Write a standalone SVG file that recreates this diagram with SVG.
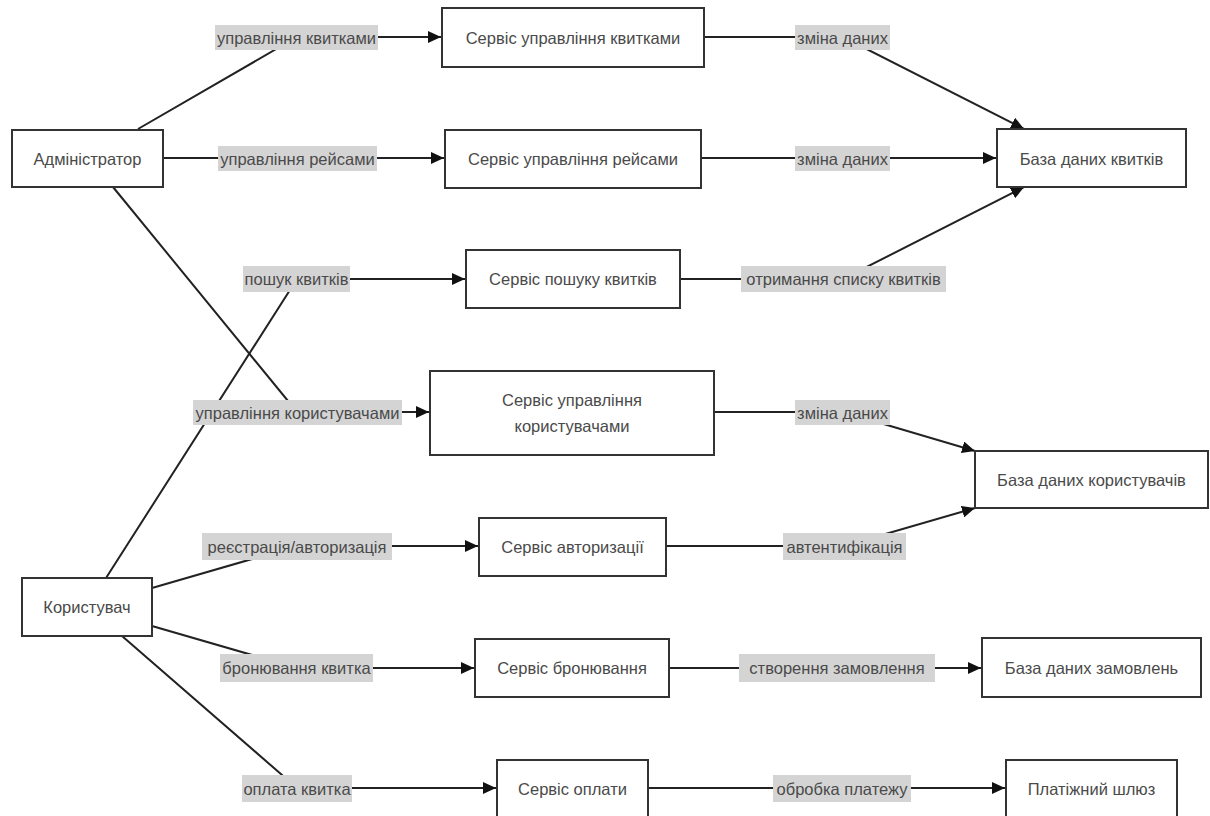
<svg xmlns="http://www.w3.org/2000/svg" width="1210" height="816" viewBox="0 0 1210 816">
<style>
.node rect{fill:#fff;stroke:#333;stroke-width:2}
.node text{font-family:"Liberation Sans",Arial,sans-serif;font-size:16.5px;fill:#4a4a4a;text-anchor:middle;dominant-baseline:central}
.edge{fill:none;stroke:#222;stroke-width:2}
.arr{marker-end:url(#ah)}
.lbl rect{fill:#d4d4d4;stroke:none}
.lbl text{font-family:"Liberation Sans",Arial,sans-serif;font-size:16.5px;fill:#4a4a4a;text-anchor:middle;dominant-baseline:central}
</style>
<defs>
<marker id="ah" markerUnits="userSpaceOnUse" markerWidth="14" markerHeight="12" refX="13" refY="6" orient="auto">
<path d="M0,0 L13,6 L0,12 Z" fill="#111"/>
</marker>
</defs>
<rect width="1210" height="816" fill="#fff"/>
<g id="connectors">
<path class="edge arr" d="M138,129 L297,37 L441,37"/>
<path class="edge arr" d="M163,158 L444,158"/>
<path class="edge arr" d="M113,187 L297,412 L429,412"/>
<path class="edge arr" d="M106,578 L297,279 L465,279"/>
<path class="edge arr" d="M152,588 L297,546 L478,546"/>
<path class="edge arr" d="M152,626 L297,668 L474,668"/>
<path class="edge arr" d="M122,636 L297,788 L496,788"/>
<path class="edge arr" d="M704,37 L843,37 L1024,129"/>
<path class="edge arr" d="M701,158 L996,158"/>
<path class="edge arr" d="M680,279 L843,279 L1024,187"/>
<path class="edge arr" d="M714,412 L843,412 L975,451"/>
<path class="edge arr" d="M666,546 L844,546 L975,508"/>
<path class="edge arr" d="M669,668 L981,668"/>
<path class="edge arr" d="M648,788 L1005,788"/>
<g class="lbl"><rect x="215" y="25" width="163" height="25"/><text x="296.5" y="37.5">управління квитками</text></g>
<g class="lbl"><rect x="218" y="146" width="159" height="25"/><text x="297.5" y="158.5">управління рейсами</text></g>
<g class="lbl"><rect x="243" y="266" width="107" height="26"/><text x="296.5" y="279">пошук квитків</text></g>
<g class="lbl"><rect x="193" y="400" width="209" height="25"/><text x="297.5" y="412.5">управління користувачами</text></g>
<g class="lbl"><rect x="202" y="533" width="190" height="27"/><text x="297" y="546.5">реєстрація/авторизація</text></g>
<g class="lbl"><rect x="220" y="654" width="153" height="28"/><text x="296.5" y="668">бронювання квитка</text></g>
<g class="lbl"><rect x="242" y="775" width="110" height="27"/><text x="297" y="788.5">оплата квитка</text></g>
<g class="lbl"><rect x="795" y="25" width="95" height="25"/><text x="842.5" y="37.5">зміна даних</text></g>
<g class="lbl"><rect x="795" y="146" width="95" height="25"/><text x="842.5" y="158.5">зміна даних</text></g>
<g class="lbl"><rect x="741" y="266" width="205" height="26"/><text x="843.5" y="279">отримання списку квитків</text></g>
<g class="lbl"><rect x="795" y="400" width="95" height="25"/><text x="842.5" y="412.5">зміна даних</text></g>
<g class="lbl"><rect x="783" y="533" width="123" height="27"/><text x="844.5" y="546.5">автентифікація</text></g>
<g class="lbl"><rect x="739" y="654" width="196" height="28"/><text x="837" y="668">створення замовлення</text></g>
<g class="lbl"><rect x="773" y="775" width="138" height="27"/><text x="842" y="788.5">обробка платежу</text></g>
</g>
<g id="n-admin" class="node"><rect x="12" y="130" width="151" height="57"/><text x="87.5" y="158.5">Адміністратор</text></g>
<g id="n-user" class="node"><rect x="22" y="578" width="130" height="58"/><text x="87" y="607">Користувач</text></g>
<g id="n-svc-tickets" class="node"><rect x="442" y="8" width="262" height="59"/><text x="573" y="37.5">Сервіс управління квитками</text></g>
<g id="n-svc-flights" class="node"><rect x="445" y="130" width="256" height="58"/><text x="573" y="159">Сервіс управління рейсами</text></g>
<g id="n-svc-search" class="node"><rect x="466" y="250" width="214" height="58"/><text x="573" y="279">Сервіс пошуку квитків</text></g>
<g id="n-svc-users" class="node"><rect x="430" y="371" width="284" height="84"/><text x="572" y="400">Сервіс управління</text><text x="572" y="426">користувачами</text></g>
<g id="n-svc-auth" class="node"><rect x="479" y="518" width="187" height="58"/><text x="572.5" y="547">Сервіс авторизації</text></g>
<g id="n-svc-booking" class="node"><rect x="475" y="639" width="194" height="58"/><text x="572" y="668">Сервіс бронювання</text></g>
<g id="n-svc-pay" class="node"><rect x="497" y="760" width="151" height="58"/><text x="572.5" y="788.5">Сервіс оплати</text></g>
<g id="n-db-tickets" class="node"><rect x="997" y="129" width="189" height="58"/><text x="1091.5" y="158.5">База даних квитків</text></g>
<g id="n-db-users" class="node"><rect x="975" y="451" width="233" height="57"/><text x="1091.5" y="479.5">База даних користувачів</text></g>
<g id="n-db-orders" class="node"><rect x="982" y="638" width="219" height="59"/><text x="1091.5" y="667.5">База даних замовлень</text></g>
<g id="n-gateway" class="node"><rect x="1006" y="760" width="171" height="58"/><text x="1091.5" y="788.5">Платіжний шлюз</text></g>
</svg>
